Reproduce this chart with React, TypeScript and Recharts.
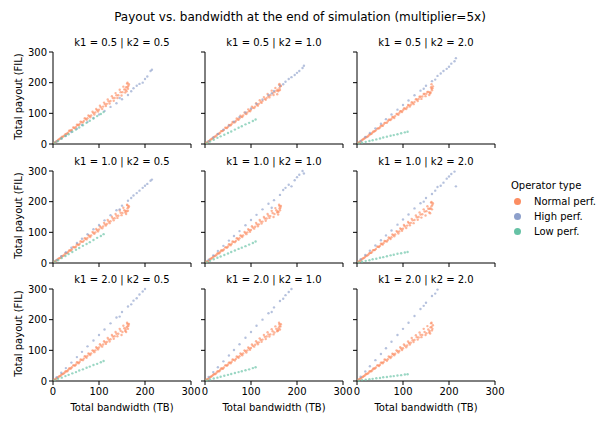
import { ScatterChart, Scatter, XAxis, YAxis } from "recharts";

// facet values (rows = k1, columns = k2)
const K1_VALUES = ["0.5", "1.0", "2.0"];
const K2_VALUES = ["0.5", "1.0", "2.0"];
const AXIS_TICKS = [0, 100, 200, 300];

const OPERATOR_TYPES = ["Normal perf.", "High perf.", "Low perf."];
const COLORS = ["#fc8d62", "#8da0cb", "#66c2a5"];

// bandwidth (TB) of each operator, per operator type
const normalBw = [
  3, 7, 11, 15, 19, 23, 27, 31, 35, 39, 44, 48, 52, 56, 60, 65, 69, 73, 77, 81, 86, 90, 94, 98, 102, 107, 111, 115, 119, 123, 128, 132, 136, 140, 145, 149, 153, 157, 161, 163, 160, 162, 164, 159,
  5, 9, 13, 17, 21, 25, 29, 33, 37, 41, 46, 50, 54, 58, 62, 67, 71, 75, 79, 83, 88, 92, 96, 100, 104, 109, 113, 117, 121, 125, 130, 134, 138, 142, 147, 151, 155, 158, 162, 165,
];
const highBw = [8, 18, 28, 40, 52, 63, 75, 88, 100, 112, 125, 138, 150, 163, 175, 188, 200, 212, 145, 170, 182, 195, 205, 215];
const lowBw = [4, 11, 19, 27, 34, 42, 50, 57, 65, 73, 80, 88, 96, 104, 110];

// total payout (FIL), one array per panel k1_k2
const normalPay05_05 = [
  4, 8, 13, 17, 23, 25, 32, 34, 43, 44, 54, 51, 63, 61, 73, 70, 84, 79, 93, 87, 105, 96, 114, 106, 125, 114, 135, 124, 145, 132, 156, 141, 166, 150, 177, 158, 187, 168, 197, 180, 172, 200, 190, 185,
  6, 10, 15, 19, 24, 28, 33, 37, 43, 46, 53, 56, 62, 65, 71, 75, 82, 84, 91, 93, 101, 103, 110, 112, 120, 122, 130, 131, 139, 140, 150, 150, 159, 159, 169, 169, 178, 177, 186, 195,
];
const normalPay05_10 = [
  4, 8, 13, 17, 22, 25, 32, 34, 42, 43, 53, 52, 62, 61, 72, 71, 83, 79, 92, 88, 103, 98, 113, 107, 122, 117, 133, 125, 143, 134, 153, 144, 163, 152, 174, 160, 183, 162, 193, 176, 175, 196, 188, 172,
  6, 10, 15, 19, 24, 28, 33, 37, 42, 46, 52, 56, 61, 65, 70, 75, 80, 84, 89, 93, 99, 103, 108, 112, 118, 122, 128, 131, 137, 140, 147, 150, 156, 159, 166, 169, 174, 177, 183, 190,
];
const normalPay05_20 = [
  4, 8, 13, 17, 22, 24, 31, 33, 40, 42, 50, 51, 60, 59, 69, 69, 79, 78, 88, 85, 98, 95, 107, 104, 116, 114, 127, 122, 136, 130, 146, 140, 154, 147, 163, 156, 170, 160, 185, 175, 168, 195, 182, 165,
  6, 10, 15, 19, 23, 27, 32, 36, 41, 45, 51, 55, 60, 64, 69, 74, 79, 82, 88, 91, 98, 101, 107, 110, 116, 120, 126, 128, 134, 137, 145, 147, 154, 155, 163, 164, 170, 168, 180, 188,
];
const normalPay10_05 = [
  4, 8, 13, 16, 22, 24, 32, 33, 41, 41, 52, 51, 61, 59, 71, 69, 81, 77, 91, 85, 101, 95, 111, 103, 120, 113, 131, 122, 140, 130, 151, 139, 160, 147, 171, 156, 180, 165, 190, 170, 168, 188, 182, 160,
  6, 10, 15, 18, 23, 27, 32, 36, 41, 45, 51, 54, 60, 63, 69, 73, 79, 82, 88, 90, 98, 100, 107, 109, 116, 119, 126, 127, 135, 136, 145, 146, 154, 154, 164, 163, 172, 170, 178, 185,
];
const normalPay10_10 = [
  4, 7, 13, 16, 22, 24, 31, 32, 41, 41, 51, 50, 61, 58, 70, 68, 81, 76, 90, 85, 101, 94, 110, 102, 120, 112, 131, 120, 140, 129, 150, 138, 160, 147, 170, 150, 179, 165, 190, 172, 166, 186, 180, 158,
  6, 10, 14, 19, 23, 27, 32, 36, 41, 44, 51, 54, 60, 63, 69, 72, 79, 81, 88, 90, 98, 100, 107, 108, 116, 118, 126, 126, 135, 135, 145, 145, 154, 153, 163, 160, 172, 168, 178, 186,
];
const normalPay10_20 = [
  4, 8, 13, 16, 23, 25, 32, 33, 42, 42, 53, 52, 63, 60, 72, 70, 83, 78, 93, 87, 104, 96, 113, 105, 124, 114, 134, 123, 144, 130, 155, 141, 165, 148, 175, 155, 185, 165, 197, 175, 178, 199, 190, 162,
  6, 10, 15, 19, 24, 28, 33, 37, 42, 46, 53, 56, 62, 65, 71, 75, 81, 84, 91, 93, 101, 103, 110, 112, 120, 122, 130, 131, 139, 140, 149, 150, 158, 159, 168, 169, 177, 177, 185, 195,
];
const normalPay20_05 = [
  4, 8, 12, 16, 22, 24, 31, 32, 41, 41, 51, 50, 61, 58, 70, 68, 81, 76, 90, 85, 100, 94, 110, 103, 120, 112, 130, 121, 140, 129, 150, 138, 160, 146, 170, 150, 180, 163, 190, 170, 175, 186, 180, 160,
  6, 10, 15, 18, 23, 27, 32, 36, 41, 45, 51, 54, 60, 63, 69, 73, 79, 82, 88, 90, 98, 100, 107, 109, 116, 119, 126, 127, 135, 136, 145, 146, 154, 154, 164, 160, 172, 168, 178, 186,
];
const normalPay20_10 = [
  4, 7, 13, 16, 22, 23, 31, 32, 41, 40, 51, 50, 60, 58, 70, 67, 80, 76, 90, 84, 100, 93, 109, 102, 119, 112, 130, 120, 139, 128, 150, 137, 159, 145, 169, 152, 178, 162, 190, 168, 172, 185, 178, 165,
  6, 10, 14, 19, 23, 27, 32, 36, 41, 44, 51, 54, 60, 63, 69, 72, 78, 81, 87, 90, 97, 100, 106, 108, 115, 118, 125, 126, 134, 135, 144, 145, 152, 152, 162, 158, 170, 165, 178, 185,
];
const normalPay20_20 = [
  4, 8, 12, 16, 22, 24, 31, 32, 40, 41, 51, 49, 60, 58, 70, 66, 80, 75, 89, 84, 100, 93, 110, 101, 119, 110, 129, 119, 140, 127, 149, 135, 158, 143, 170, 150, 179, 158, 188, 165, 175, 190, 170, 155,
  6, 10, 14, 18, 23, 26, 32, 35, 41, 44, 51, 53, 60, 62, 69, 71, 78, 80, 87, 89, 97, 98, 106, 107, 115, 116, 124, 125, 133, 134, 143, 142, 151, 150, 160, 156, 168, 163, 176, 182,
];

const highPay05_05 = [8, 18, 27, 39, 50, 62, 72, 85, 96, 108, 121, 133, 146, 160, 182, 196, 212, 238, 150, 172, 190, 200, 220, 242];
const highPay05_10 = [9, 21, 33, 47, 60, 73, 88, 103, 116, 131, 145, 160, 173, 190, 203, 218, 232, 248, 165, 195, 212, 225, 238, 255];
const highPay05_20 = [10, 23, 36, 51, 66, 81, 96, 112, 127, 142, 159, 174, 190, 205, 222, 238, 252, 270, 180, 210, 230, 245, 262, 280];
const highPay10_05 = [10, 22, 35, 50, 65, 79, 94, 110, 124, 139, 156, 172, 187, 203, 220, 236, 252, 268, 175, 212, 228, 245, 258, 272];
const highPay10_10 = [11, 25, 39, 56, 73, 88, 104, 123, 140, 157, 175, 193, 205, 222, 245, 250, 280, 300, 180, 238, 255, 270, 288, 292];
const highPay10_20 = [12, 26, 40, 57, 74, 90, 106, 125, 142, 158, 178, 195, 212, 225, 248, 262, 282, 298, 200, 236, 252, 275, 290, 250];
const highPay20_05 = [12, 27, 42, 60, 78, 95, 113, 132, 150, 168, 188, 207, 225, 243, 262, 282, 300, 318, 210, 250, 270, 292, 308, 322];
const highPay20_10 = [13, 29, 45, 64, 83, 101, 120, 141, 160, 180, 200, 221, 240, 261, 280, 300, 320, 339, 225, 268, 290, 310, 328, 345];
const highPay20_20 = [14, 31, 48, 68, 88, 107, 128, 150, 170, 190, 212, 235, 255, 277, 298, 320, 340, 360, 245, 285, 305, 330, 350, 365];

const lowPay05_05 = [4, 10, 18, 26, 32, 40, 47, 54, 61, 69, 76, 83, 91, 98, 104];
const lowPay05_10 = [3, 8, 14, 20, 25, 30, 36, 41, 47, 53, 58, 64, 69, 75, 80];
const lowPay05_20 = [2, 4, 7, 10, 12, 15, 18, 21, 24, 27, 29, 32, 35, 38, 40];
const lowPay10_05 = [4, 9, 16, 23, 29, 36, 43, 49, 56, 62, 68, 75, 82, 88, 94];
const lowPay10_10 = [3, 7, 12, 17, 21, 26, 31, 36, 41, 46, 50, 55, 60, 65, 70];
const lowPay10_20 = [2, 4, 7, 9, 12, 14, 17, 19, 22, 25, 27, 30, 32, 34, 36];
const lowPay20_05 = [3, 7, 11, 16, 20, 25, 29, 34, 38, 43, 47, 52, 56, 61, 65];
const lowPay20_10 = [2, 5, 8, 11, 14, 17, 20, 23, 26, 29, 32, 35, 38, 42, 45];
const lowPay20_20 = [1, 3, 4, 6, 7, 9, 10, 12, 13, 15, 16, 18, 19, 21, 22];

const PAYOUTS = [
  [normalPay05_05, highPay05_05, lowPay05_05],
  [normalPay05_10, highPay05_10, lowPay05_10],
  [normalPay05_20, highPay05_20, lowPay05_20],
  [normalPay10_05, highPay10_05, lowPay10_05],
  [normalPay10_10, highPay10_10, lowPay10_10],
  [normalPay10_20, highPay10_20, lowPay10_20],
  [normalPay20_05, highPay20_05, lowPay20_05],
  [normalPay20_10, highPay20_10, lowPay20_10],
  [normalPay20_20, highPay20_20, lowPay20_20],
];
const BANDWIDTHS = [normalBw, highBw, lowBw];

// layout
const PLOT_W = 138;
const PLOT_H = 92;
const COL_LEFT = [53, 205, 357];
const ROW_TOP = [52, 171, 289];
const PAD_L = 34;
const PAD_B = 24;
const PAD_T = 4;
const PAD_R = 14;

const FONT = "'DejaVu Sans', sans-serif";

const toPoints = (bw: number[], pay: number[]) =>
  bw
    .map((x, i) => ({ x, y: pay[i] }))
    .filter((d) => d.y <= 300);

const dot = (color: string) => (props: any) => (
  <circle
    cx={props.cx}
    cy={props.cy}
    r={1.2}
    fill={color}
    fillOpacity={0.65}
  />
);

const noTick = () => <g />;

function Panel({ row, col }: { row: number; col: number }) {
  const pays = PAYOUTS[row * 3 + col];
  const left = COL_LEFT[col];
  const top = ROW_TOP[row];
  const showX = row === 2;
  const showY = col === 0;

  return (
    <>
      <div
        style={{
          position: "absolute",
          left: left,
          width: PLOT_W,
          top: top - 15,
          textAlign: "center",
          fontSize: 10,
        }}
      >
        k1 = {K1_VALUES[row]} | k2 = {K2_VALUES[col]}
      </div>

      <div
        style={{
          position: "absolute",
          left: left - PAD_L,
          top: top - PAD_T,
        }}
      >
        <ScatterChart
          width={PLOT_W + PAD_L + PAD_R}
          height={PLOT_H + PAD_T + PAD_B}
          margin={{ top: PAD_T, right: PAD_R, bottom: 0, left: 0 }}
        >
          <XAxis
            type="number"
            dataKey="x"
            domain={[0, 300]}
            ticks={AXIS_TICKS}
            interval={0}
            height={PAD_B}
            tickSize={4}
            tickMargin={3}
            stroke="#000"
            tick={showX ? { fill: "#000", fontSize: 10 } : noTick}
          />
          <YAxis
            type="number"
            dataKey="y"
            domain={[0, 300]}
            ticks={AXIS_TICKS}
            interval={0}
            width={PAD_L}
            tickSize={4}
            tickMargin={2}
            stroke="#000"
            tick={showY ? { fill: "#000", fontSize: 10 } : noTick}
          />
          {BANDWIDTHS.map((bw, i) => (
            <Scatter
              key={OPERATOR_TYPES[i]}
              name={OPERATOR_TYPES[i]}
              data={toPoints(bw, pays[i])}
              isAnimationActive={false}
              shape={dot(COLORS[i])}
            />
          ))}
        </ScatterChart>
      </div>

      {showY && (
        <div
          style={{
            position: "absolute",
            left: 18 - 60,
            width: 120,
            top: top + PLOT_H / 2 - 7,
            textAlign: "center",
            fontSize: 10,
            transform: "rotate(-90deg)",
          }}
        >
          Total payout (FIL)
        </div>
      )}

      {showX && (
        <div
          style={{
            position: "absolute",
            left: left,
            width: PLOT_W,
            top: top + PLOT_H + 21,
            textAlign: "center",
            fontSize: 10,
          }}
        >
          Total bandwidth (TB)
        </div>
      )}
    </>
  );
}

export default function App() {
  return (
    <div
      style={{
        position: "absolute",
        left: 0,
        top: 0,
        width: 600,
        height: 421,
        background: "#fff",
        fontFamily: FONT,
        color: "#000",
      }}
    >
      <div
        style={{
          position: "absolute",
          left: 0,
          width: 600,
          top: 10,
          textAlign: "center",
          fontSize: 12,
        }}
      >
        Payout vs. bandwidth at the end of simulation (multiplier=5x)
      </div>

      {[0, 1, 2].map((row) =>
        [0, 1, 2].map((col) => (
          <Panel key={`${row}-${col}`} row={row} col={col} />
        ))
      )}

      <div
        style={{
          position: "absolute",
          left: 508,
          top: 180,
          fontSize: 10,
        }}
      >
        <div style={{ marginBottom: 3, paddingLeft: 3 }}>Operator type</div>
        {OPERATOR_TYPES.map((name, i) => (
          <div
            key={name}
            style={{
              display: "flex",
              alignItems: "center",
              height: 15,
            }}
          >
            <span
              style={{
                display: "inline-block",
                width: 7,
                height: 7,
                borderRadius: "50%",
                background: COLORS[i],
                marginLeft: 6,
                marginRight: 13,
              }}
            />
            {name}
          </div>
        ))}
      </div>
    </div>
  );
}
